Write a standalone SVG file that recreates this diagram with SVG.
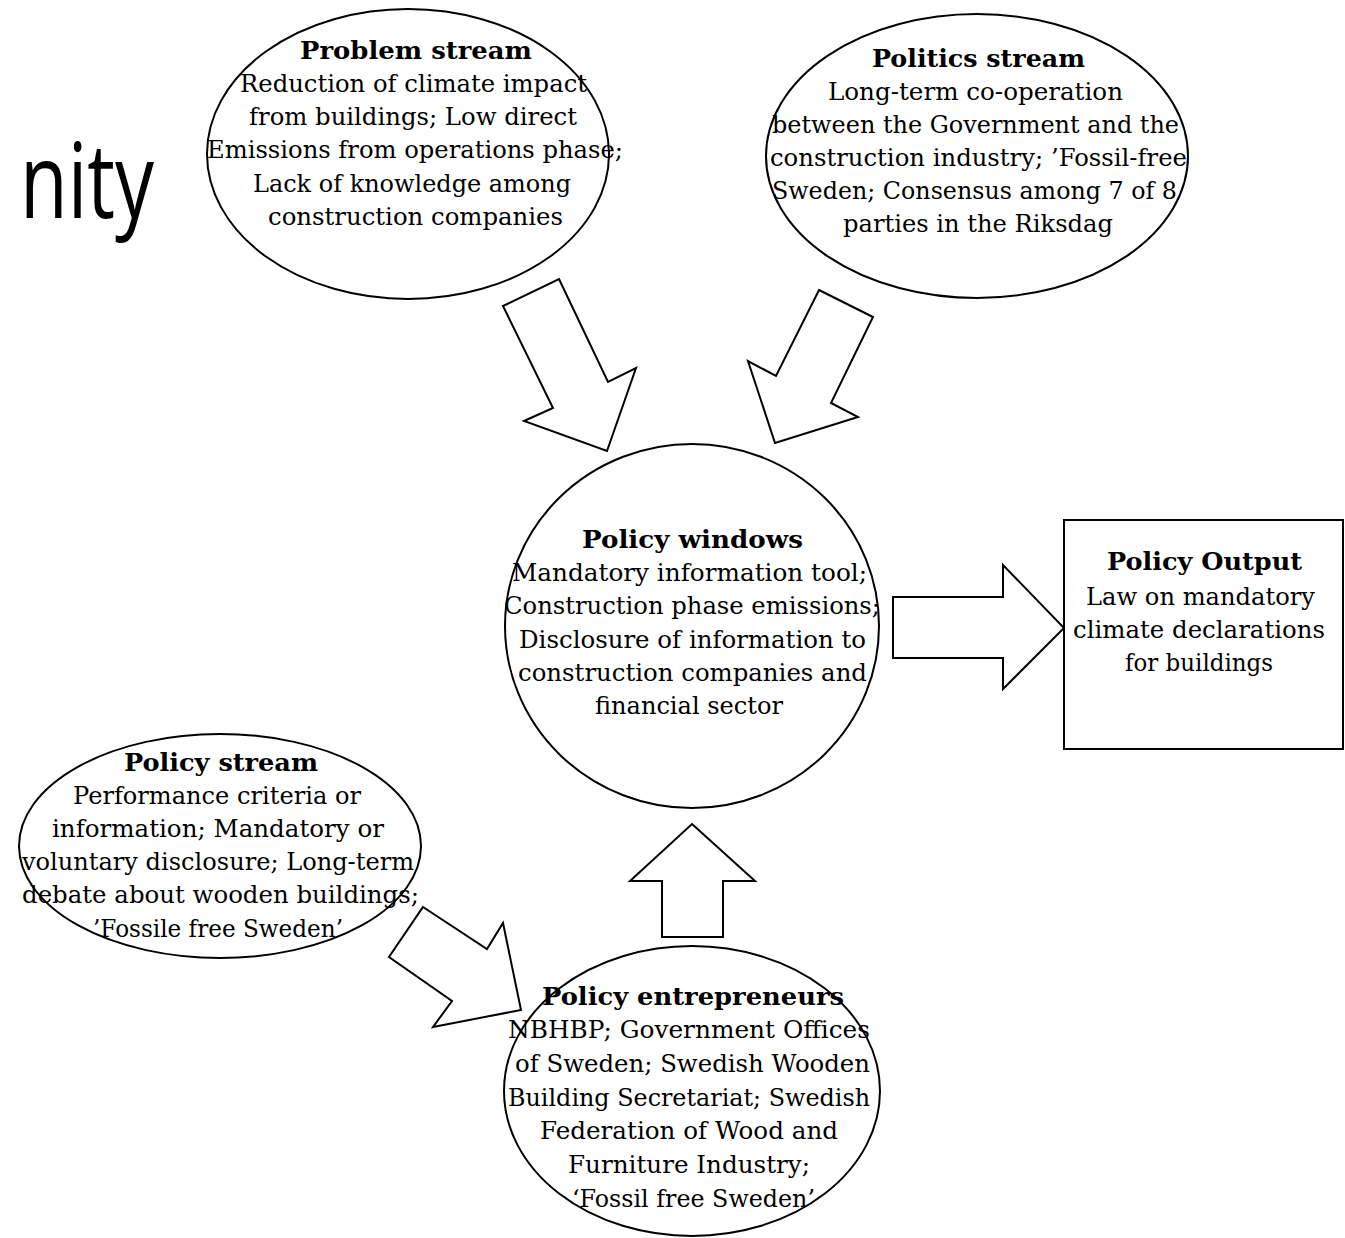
<svg xmlns="http://www.w3.org/2000/svg" width="1345" height="1238" viewBox="0 0 1345 1238">
<style>
.shape{fill:#fff;stroke:#000;stroke-width:2}
.t{font-family:"DejaVu Serif","Liberation Serif",serif;font-size:25px;fill:#000}
.b{font-weight:bold}
.big{font-family:"Open Sans","Noto Sans",sans-serif;font-size:104px;fill:#000}
</style>
<rect width="1345" height="1238" fill="#fff"/>
<text class="big" x="20" y="218" textLength="134" lengthAdjust="spacingAndGlyphs">nity</text>
<g id="connectors">
<polygon class="shape" points="559,279 608,382 636,368 607,451 524,421 553,408 503,306"/>
<polygon class="shape" points="819,290 873,317 831,403 858,417 775,443 748,361 776,376"/>
<polygon class="shape" points="893,597 1003,597 1003,565 1064,628 1003,689 1003,658 893,658"/>
<polygon class="shape" points="692,824 755,881 723,881 723,937 662,937 662,881 630,881"/>
<polygon class="shape" points="423,907 487,949 503,923 521,1010 433,1027 452,1001 389,957"/>
</g>
<g id="problem-stream">
<ellipse class="shape" cx="408" cy="154" rx="201" ry="145"/>
<text class="t b" x="300" y="59" textLength="232" lengthAdjust="spacingAndGlyphs">Problem stream</text>
<text class="t" x="240" y="92" textLength="347" lengthAdjust="spacingAndGlyphs">Reduction of climate impact</text>
<text class="t" x="249" y="125" textLength="328" lengthAdjust="spacingAndGlyphs">from buildings; Low direct</text>
<text class="t" x="207" y="158" textLength="416" lengthAdjust="spacingAndGlyphs">Emissions from operations phase;</text>
<text class="t" x="253" y="192" textLength="318" lengthAdjust="spacingAndGlyphs">Lack of knowledge among</text>
<text class="t" x="268" y="225" textLength="295" lengthAdjust="spacingAndGlyphs">construction companies</text>
</g>
<g id="politics-stream">
<ellipse class="shape" cx="977" cy="156" rx="211" ry="142"/>
<text class="t b" x="872" y="67" textLength="213" lengthAdjust="spacingAndGlyphs">Politics stream</text>
<text class="t" x="828" y="100" textLength="295" lengthAdjust="spacingAndGlyphs">Long-term co-operation</text>
<text class="t" x="772" y="133" textLength="407" lengthAdjust="spacingAndGlyphs">between the Government and the</text>
<text class="t" x="770" y="166" textLength="417" lengthAdjust="spacingAndGlyphs">construction industry; ’Fossil-free</text>
<text class="t" x="772" y="199" textLength="405" lengthAdjust="spacingAndGlyphs">Sweden; Consensus among 7 of 8</text>
<text class="t" x="843" y="232" textLength="270" lengthAdjust="spacingAndGlyphs">parties in the Riksdag</text>
</g>
<g id="policy-windows">
<ellipse class="shape" cx="692" cy="626" rx="187" ry="182"/>
<text class="t b" x="582" y="548" textLength="221" lengthAdjust="spacingAndGlyphs">Policy windows</text>
<text class="t" x="512" y="581" textLength="355" lengthAdjust="spacingAndGlyphs">Mandatory information tool;</text>
<text class="t" x="504" y="614" textLength="376" lengthAdjust="spacingAndGlyphs">Construction phase emissions;</text>
<text class="t" x="519" y="648" textLength="347" lengthAdjust="spacingAndGlyphs">Disclosure of information to</text>
<text class="t" x="518" y="681" textLength="349" lengthAdjust="spacingAndGlyphs">construction companies and</text>
<text class="t" x="595" y="714" textLength="188" lengthAdjust="spacingAndGlyphs">financial sector</text>
</g>
<g id="policy-output">
<rect class="shape" x="1064" y="520" width="279" height="229"/>
<text class="t b" x="1107" y="570" textLength="195" lengthAdjust="spacingAndGlyphs">Policy Output</text>
<text class="t" x="1086" y="605" textLength="229" lengthAdjust="spacingAndGlyphs">Law on mandatory</text>
<text class="t" x="1073" y="638" textLength="252" lengthAdjust="spacingAndGlyphs">climate declarations</text>
<text class="t" x="1125" y="671" textLength="148" lengthAdjust="spacingAndGlyphs">for buildings</text>
</g>
<g id="policy-stream">
<ellipse class="shape" cx="220" cy="846" rx="201" ry="112"/>
<text class="t b" x="124" y="771" textLength="194" lengthAdjust="spacingAndGlyphs">Policy stream</text>
<text class="t" x="73" y="804" textLength="288" lengthAdjust="spacingAndGlyphs">Performance criteria or</text>
<text class="t" x="52" y="837" textLength="332" lengthAdjust="spacingAndGlyphs">information; Mandatory or</text>
<text class="t" x="22" y="870" textLength="392" lengthAdjust="spacingAndGlyphs">voluntary disclosure; Long-term</text>
<text class="t" x="22" y="903" textLength="397" lengthAdjust="spacingAndGlyphs">debate about wooden buildings;</text>
<text class="t" x="93" y="937" textLength="250" lengthAdjust="spacingAndGlyphs">’Fossile free Sweden’</text>
</g>
<g id="policy-entrepreneurs">
<ellipse class="shape" cx="692" cy="1091" rx="188" ry="145"/>
<text class="t b" x="542" y="1005" textLength="302" lengthAdjust="spacingAndGlyphs">Policy entrepreneurs</text>
<text class="t" x="508" y="1038" textLength="362" lengthAdjust="spacingAndGlyphs">NBHBP; Government Offices</text>
<text class="t" x="515" y="1072" textLength="355" lengthAdjust="spacingAndGlyphs">of Sweden; Swedish Wooden</text>
<text class="t" x="508" y="1106" textLength="362" lengthAdjust="spacingAndGlyphs">Building Secretariat; Swedish</text>
<text class="t" x="540" y="1139" textLength="298" lengthAdjust="spacingAndGlyphs">Federation of Wood and</text>
<text class="t" x="568" y="1173" textLength="242" lengthAdjust="spacingAndGlyphs">Furniture Industry;</text>
<text class="t" x="572" y="1207" textLength="243" lengthAdjust="spacingAndGlyphs">‘Fossil free Sweden’</text>
</g>
</svg>
